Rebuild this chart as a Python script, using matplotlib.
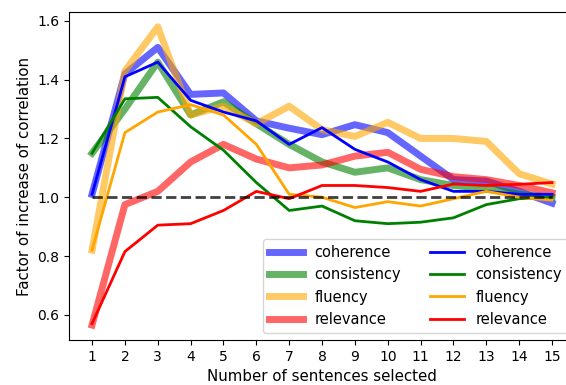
import numpy as np
import matplotlib.pyplot as plt

# number of sentences selected
k = np.arange(1, 16)

# thick / faded curves
coherence_a = [1.01, 1.42, 1.51, 1.35, 1.355, 1.26, 1.235, 1.213, 1.247, 1.22, 1.14, 1.06, 1.055, 1.02, 0.98]
consistency_a = [1.15, 1.30, 1.46, 1.28, 1.325, 1.25, 1.18, 1.12, 1.085, 1.10, 1.06, 1.04, 1.03, 1.01, 1.0]
fluency_a = [0.82, 1.43, 1.58, 1.28, 1.31, 1.25, 1.31, 1.23, 1.207, 1.255, 1.20, 1.20, 1.19, 1.08, 1.045]
relevance_a = [0.565, 0.975, 1.02, 1.12, 1.18, 1.13, 1.10, 1.11, 1.14, 1.153, 1.095, 1.07, 1.06, 1.04, 1.015]

# thin curves
coherence_b = [1.01, 1.41, 1.46, 1.33, 1.29, 1.26, 1.18, 1.237, 1.163, 1.12, 1.06, 1.02, 1.02, 1.01, 1.01]
consistency_b = [1.15, 1.335, 1.34, 1.24, 1.16, 1.05, 0.955, 0.97, 0.92, 0.91, 0.915, 0.93, 0.975, 0.995, 1.0]
fluency_b = [0.82, 1.22, 1.29, 1.315, 1.28, 1.18, 1.01, 1.0, 0.965, 0.985, 0.97, 0.995, 1.02, 1.0, 0.99]
relevance_b = [0.57, 0.815, 0.905, 0.91, 0.955, 1.02, 0.995, 1.04, 1.04, 1.033, 1.02, 1.045, 1.04, 1.044, 1.05]

names = ['coherence', 'consistency', 'fluency', 'relevance']
colors = ['blue', 'green', 'orange', 'red']

fig, ax = plt.subplots(figsize=(5.66, 3.85), dpi=100)
# the original image is cropped on the right, so the axes run past the edge
fig.subplots_adjust(left=0.122, right=1.016, top=0.969, bottom=0.117)

for vals, name, c in zip([coherence_a, consistency_a, fluency_a, relevance_a], names, colors):
    ax.plot(k, vals, color=c, lw=5, alpha=0.6, label=name)
for vals, name, c in zip([coherence_b, consistency_b, fluency_b, relevance_b], names, colors):
    ax.plot(k, vals, color=c, lw=2, label=name)

ax.plot(k, np.ones(len(k)), 'k--', lw=2, alpha=0.75)

ax.set_xticks(k)
ax.set_xlabel('Number of sentences selected', fontsize=10.8)
ax.set_ylabel('Factor of increase of correlation', fontsize=10.8)
ax.legend(loc='lower right', ncol=2, fontsize=10.5, handlelength=2.3)

plt.savefig('out.png')
